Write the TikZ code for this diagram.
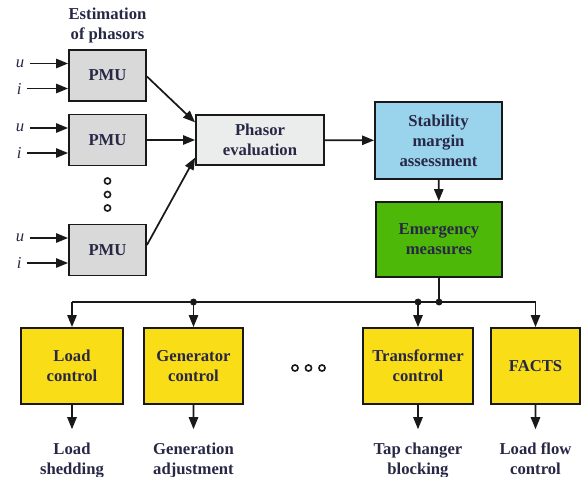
\documentclass[tikz,border=0pt]{standalone}
\usepackage{fontspec}
\setmainfont{Liberation Serif}
\usepackage{tikz}
\usetikzlibrary{arrows.meta, positioning, calc}
\definecolor{PMUGray}{RGB}{217, 217, 217}
\definecolor{EvalGray}{RGB}{235, 237, 236}
\definecolor{MarginBlue}{RGB}{153, 211, 236}
\definecolor{EmergGreen}{RGB}{77, 184, 8}
\definecolor{CtrlYellow}{RGB}{249, 221, 22}
\definecolor{TextNavy}{RGB}{40, 40, 70}

\begin{document}
\begin{tikzpicture}[x=0.75pt, y=-0.75pt, font=\fontsize{12.5}{15}\selectfont\bfseries, text=TextNavy,
    box/.style={draw=black!90, line width=1.4pt, align=center, inner sep=2pt},
    pmubox/.style={box, fill=PMUGray, minimum width=57.75pt, minimum height=38.25pt},
    ctrlbox/.style={box, fill=CtrlYellow, minimum height=57pt},
    sig/.style={font=\fontsize{12.5}{15}\selectfont\itshape, inner xsep=4pt},
    outcome/.style={align=center, inner sep=0pt},
    flow/.style={line width=1.3pt, draw=black!90, -{Triangle[length=9pt, width=7pt]}},
    link/.style={line width=1.3pt, draw=black!90},
    joint/.style={fill=black!90, radius=2.6pt},
    gap/.style={draw=black!90, line width=1.2pt, radius=2.3pt}]
    \useasboundingbox (0,0) rectangle (581,476);

    % phasor measurement units
    \node[pmubox] (pmu1) at (107.5,75.5) {PMU};
    \node[pmubox] (pmu2) at (107.5,140) {PMU};
    \node[pmubox] (pmu3) at (107.5,250) {PMU};
    \node[align=center, above=1pt of pmu1] (est) {Estimation\\of phasors};
    \foreach \y in {181,194.5,208} \draw[gap] (107.5,\y) circle;

    % inputs u, i
    \foreach \p in {pmu1,pmu2,pmu3} {
        \node[sig] (u-\p) at ($(\p.west)+(-48,-12)$) {u};
        \node[sig] (i-\p) at ($(\p.west)+(-49,13)$) {i};
        \draw[flow] (u-\p) -- (u-\p -| \p.west);
        \draw[flow] (i-\p) -- (i-\p -| \p.west);
    }

    % evaluation and assessment
    \node[box, fill=EvalGray, minimum width=96pt, minimum height=37.5pt] (eval) at (260,140) {Phasor\\evaluation};
    \node[box, fill=MarginBlue, minimum width=95.25pt, minimum height=57.75pt] (margin) at (438.5,140.5) {Stability\\margin\\assessment};
    \node[box, fill=EmergGreen, minimum width=94.5pt, minimum height=56.25pt] (emerg) at (439,239.5) {Emergency\\measures};

    \draw[flow] ($(pmu1.east)+(0,1)$) -- ($(eval.north west)!0.16!(eval.south west)$);
    \draw[flow] (pmu2) -- (eval);
    \draw[flow] ($(pmu3.east)+(0,-5)$) -- ($(eval.north west)!0.84!(eval.south west)$);
    \draw[flow] (eval) -- (margin);
    \draw[flow] (margin) -- (emerg);

    % control actions
    \node[ctrlbox, minimum width=76.5pt] (load) at (72,366) {Load\\control};
    \node[ctrlbox, minimum width=74.25pt] (gen) at (193.5,366) {Generator\\control};
    \node[ctrlbox, minimum width=82.5pt] (trafo) at (418,366) {Transformer\\control};
    \node[ctrlbox, minimum width=66.75pt] (facts) at (535.5,366) {FACTS};
    \foreach \x in {295,308.5,322} \draw[gap] (\x,368) circle;

    % distribution bus
    \coordinate (bus) at (emerg.south |- 0,302);
    \draw[link] (emerg) -- (bus);
    \draw[link] (load.north |- bus) -- (facts.north |- bus);
    \foreach \c in {load,gen,trafo,facts}
        \draw[flow] (\c.north |- bus) -- (\c);
    \fill[joint] (gen.north |- bus) circle;
    \fill[joint] (trafo.north |- bus) circle;
    \fill[joint] (bus) circle;

    % resulting measures
    \node[outcome, below=28pt of load] (shed) {Load\\shedding};
    \node[outcome, below=28pt of gen] (adjust) {Generation\\adjustment};
    \node[outcome, below=28pt of trafo] (tap) {Tap changer\\blocking};
    \node[outcome, below=28pt of facts] (flowctl) {Load flow\\control};
    \draw[flow] (load) -- ($(load.south)!0.65!(shed.north)$);
    \draw[flow] (gen) -- ($(gen.south)!0.65!(adjust.north)$);
    \draw[flow] (trafo) -- ($(trafo.south)!0.65!(tap.north)$);
    \draw[flow] (facts) -- ($(facts.south)!0.65!(flowctl.north)$);
\end{tikzpicture}
\end{document}
